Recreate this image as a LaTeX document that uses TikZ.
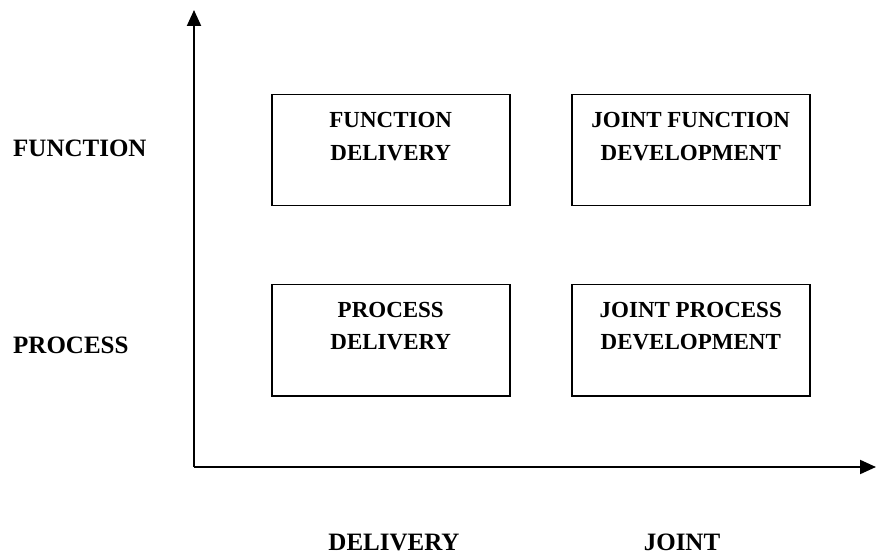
\documentclass[tikz,border=0pt]{standalone}
\usepackage{fontspec}
\setmainfont{Liberation Serif}
\usetikzlibrary{arrows.meta}
\begin{document}
\begin{tikzpicture}[x=1pt,y=-1pt,
  axis/.style={line width=2pt,-{Triangle[length=16pt,width=14pt]}},
  cell/.style={draw,line width=1.5pt,minimum width=238pt,minimum height=111pt,inner sep=0pt,anchor=north west},
  celltext/.style={anchor=base,align=center,inner sep=0pt,font=\fontsize{23}{32.5}\selectfont\bfseries},
  axislabel/.style={anchor=base,inner sep=0pt,font=\fontsize{25}{29}\selectfont\bfseries}]
\useasboundingbox (0,0) rectangle (876,556);

% axes
\coordinate (o) at (194,467);
\coordinate (ytip) at (194,10);
\coordinate (xtip) at (876,467);
\draw[axis] (o) -- (ytip);
\draw[axis] (o) -- (xtip);

% quadrant boxes
\node[cell] (fd) at (271,94) {};
\node[cell] (jfd) at (571,94) {};
\node[cell] (pd) at (271,284) {};
\node[cell] (jpd) at (571,284) {};

% box captions (base anchor sits on the second line)
\node[celltext] (fdt) at ([yshift=-66.5pt]fd.north) {FUNCTION\\DELIVERY};
\node[celltext] (jfdt) at ([yshift=-66.5pt]jfd.north) {JOINT FUNCTION\\DEVELOPMENT};
\node[celltext] (pdt) at ([yshift=-65.5pt]pd.north) {PROCESS\\DELIVERY};
\node[celltext] (jpdt) at ([yshift=-65.5pt]jpd.north) {JOINT PROCESS\\DEVELOPMENT};

% axis category labels
\node[axislabel,anchor=base west] (lf) at (13,157) {FUNCTION};
\node[axislabel,anchor=base west] (lp) at (13,353) {PROCESS};
\node[axislabel] (ld) at (394,550) {DELIVERY};
\node[axislabel] (lj) at (682,550) {JOINT};
\end{tikzpicture}
\end{document}
